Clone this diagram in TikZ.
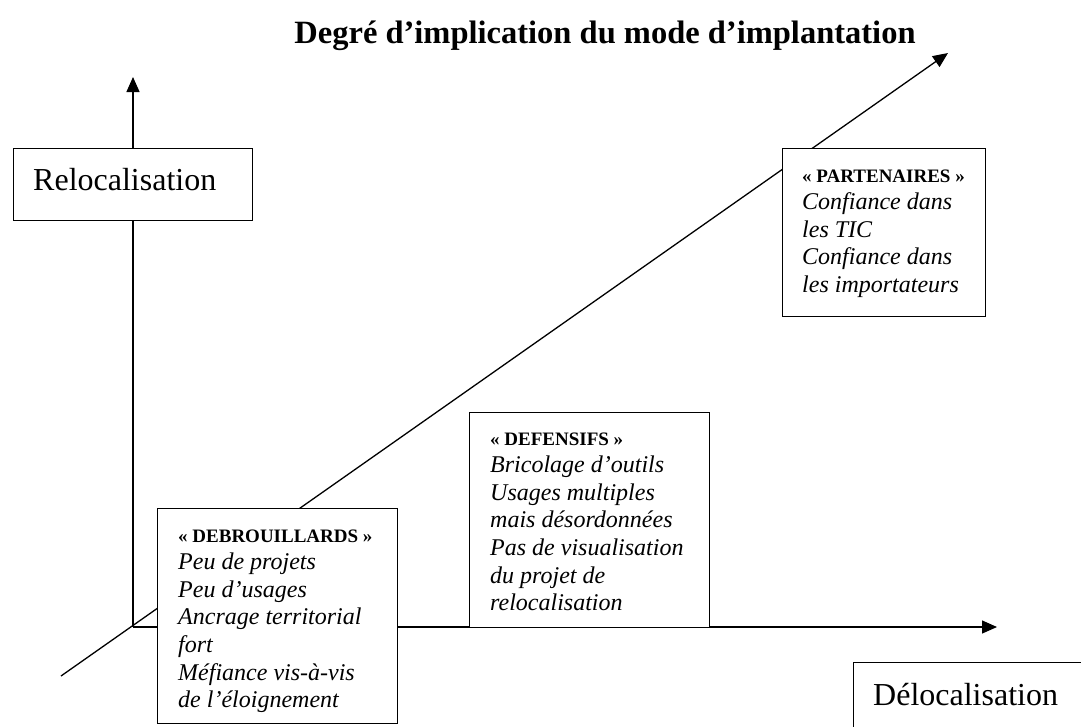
\documentclass[tikz,border=0pt]{standalone}
\usepackage{fontspec}
\setmainfont{Liberation Serif}
\usetikzlibrary{arrows.meta}
\newcommand\hdrtxt[1]{{\fontsize{19}{22}\selectfont\upshape\bfseries «~#1~»}}
\begin{document}
\begin{tikzpicture}[x=1pt,y=1pt,
  axisline/.style={line width=1.3pt,-{Triangle[length=15pt,width=13pt]}},
  framebox/.style={draw,line width=1.3pt,fill=white,inner sep=0pt,anchor=north west},
  boxtext/.style={inner sep=0pt,anchor=north west,align=left,font=\fontsize{24}{27.6}\selectfont\itshape},
  bigtext/.style={inner sep=0pt,anchor=base west,font=\fontsize{32}{38}\selectfont}]
\useasboundingbox (0,0) rectangle (1081,-726);

% title
\node[inner sep=0pt,anchor=base,font=\fontsize{32.5}{38}\selectfont\bfseries] (title) at (605,-43) {Degré d’implication du mode d’implantation};

% axes
\coordinate (O) at (133,-627);
\coordinate (ytip) at (133,-77);
\coordinate (xtip) at (997,-627);
\coordinate (dstart) at (61,-676);
\coordinate (dtip) at (948,-53);
\draw[axisline] (O) -- (ytip);
\draw[axisline] (O) -- (xtip);
\draw[axisline] (dstart) -- (dtip);

% Relocalisation
\node[framebox,minimum width=239pt,minimum height=72pt] (reloc) at (13,-148) {};
\node[bigtext] (reloctxt) at ([xshift=20pt,yshift=-42pt]reloc.north west) {Relocalisation};

% Delocalisation
\node[framebox,minimum width=240pt,minimum height=72pt] (deloc) at (853,-662) {};
\node[bigtext] (deloctxt) at ([xshift=20pt,yshift=-43pt]deloc.north west) {Délocalisation};

% Partenaires
\node[framebox,minimum width=203pt,minimum height=168pt] (part) at (782,-148) {};
\node[boxtext] (parttxt) at ([xshift=20pt,yshift=-21.4pt]part.north west)
  {\hdrtxt{PARTENAIRES}\\Confiance dans\\les TIC\\Confiance dans\\les importateurs};

% Defensifs
\node[framebox,minimum width=240pt,minimum height=215pt] (def) at (469,-412) {};
\node[boxtext] (deftxt) at ([xshift=21pt,yshift=-20.4pt]def.north west)
  {\hdrtxt{DEFENSIFS}\\Bricolage d’outils\\Usages multiples\\mais désordonnées\\Pas de visualisation\\du projet de\\relocalisation};

% Debrouillards
\node[framebox,minimum width=240pt,minimum height=215pt] (deb) at (157,-508) {};
\begin{scope}
\clip (157,-508) rectangle (397,-715);
\node[boxtext] (debtxt) at ([xshift=21pt,yshift=-21.4pt]deb.north west)
  {\hdrtxt{DEBROUILLARDS}\\Peu de projets\\Peu d’usages\\Ancrage territorial\\fort\\Méfiance vis-à-vis\\de l’éloignement};
\end{scope}
\end{tikzpicture}
\end{document}
